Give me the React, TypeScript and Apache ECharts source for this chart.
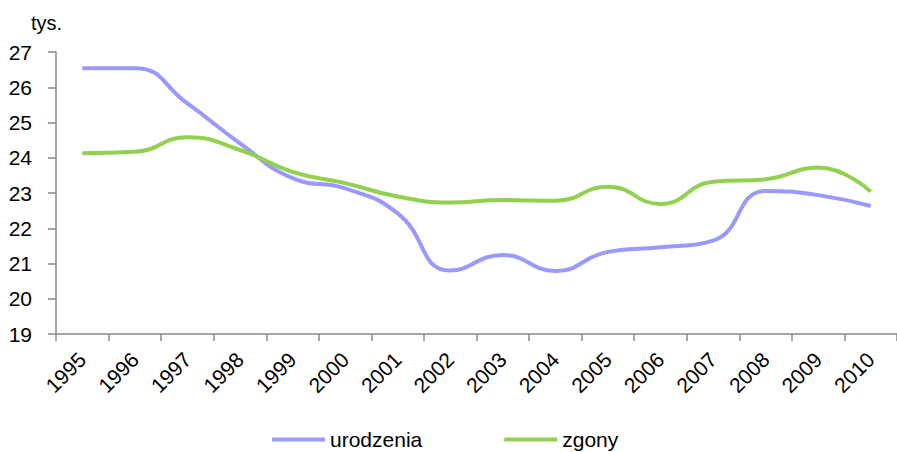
import React, { useEffect, useRef } from "react";
import * as echarts from "echarts";

const years = ["1995","1996","1997","1998","1999","2000","2001","2002","2003","2004","2005","2006","2007","2008","2009","2010"];
const urodzenia = [26.54, 26.54, 25.54, 24.41, 23.42, 23.13, 22.42, 20.8, 21.24, 20.79, 21.33, 21.46, 21.65, 23.06, 22.94, 22.63];
const zgony = [24.13, 24.17, 24.58, 24.22, 23.6, 23.28, 22.9, 22.73, 22.8, 22.78, 23.18, 22.69, 23.32, 23.39, 23.72, 23.04];
const seriesNames = ["urodzenia", "zgony"];
const yUnit = "tys.";

const FONT = "'Liberation Sans', Arial, sans-serif";

export default function App() {
  const ref = useRef<HTMLDivElement>(null);
  useEffect(() => {
    if (!ref.current) return;
    const chart = echarts.init(ref.current, null, { renderer: "svg" });
    chart.setOption({
      animation: false,
      backgroundColor: "#ffffff",
      textStyle: { fontFamily: FONT },
      grid: { left: 56, top: 52, bottom: 118, right: -12, containLabel: false },
      graphic: [
        {
          type: "text",
          left: 31,
          top: 13,
          style: { text: yUnit, font: `20px ${FONT}`, fill: "#000" },
        },
      ],
      legend: {
        bottom: 2,
        left: 272,
        padding: 0,
        icon: "rect",
        itemWidth: 53,
        itemHeight: 4,
        itemGap: 82,
        textStyle: { fontSize: 21, color: "#000", fontFamily: FONT, padding: [0, 0, 0, 0] },
        data: seriesNames,
      },
      xAxis: {
        type: "category",
        data: years,
        boundaryGap: true,
        axisLine: { lineStyle: { color: "#888888", width: 1.5 } },
        axisTick: { show: true, length: 7, lineStyle: { color: "#888888", width: 1.5 } },
        axisLabel: { rotate: 45, fontSize: 21, color: "#000", fontFamily: FONT, margin: 22, interval: 0 },
        splitLine: { show: false },
      },
      yAxis: {
        type: "value",
        min: 19,
        max: 27,
        interval: 1,
        axisLine: { show: true, lineStyle: { color: "#888888", width: 1.5 } },
        axisTick: { show: true, length: 8, lineStyle: { color: "#888888", width: 1.5 } },
        axisLabel: { fontSize: 21, color: "#000", fontFamily: FONT, margin: 24 },
        splitLine: { show: false },
      },
      series: [
        {
          name: seriesNames[0],
          type: "line",
          data: urodzenia,
          smooth: 0.5,
          symbol: "none",
          lineStyle: { color: "#9999FF", width: 4 },
          itemStyle: { color: "#9999FF" },
        },
        {
          name: seriesNames[1],
          type: "line",
          data: zgony,
          smooth: 0.5,
          symbol: "none",
          lineStyle: { color: "#92D050", width: 4 },
          itemStyle: { color: "#92D050" },
        },
      ],
    });
    return () => chart.dispose();
  }, []);
  return <div ref={ref} style={{ position: "absolute", left: 0, top: 0, width: 897, height: 452 }} />;
}
